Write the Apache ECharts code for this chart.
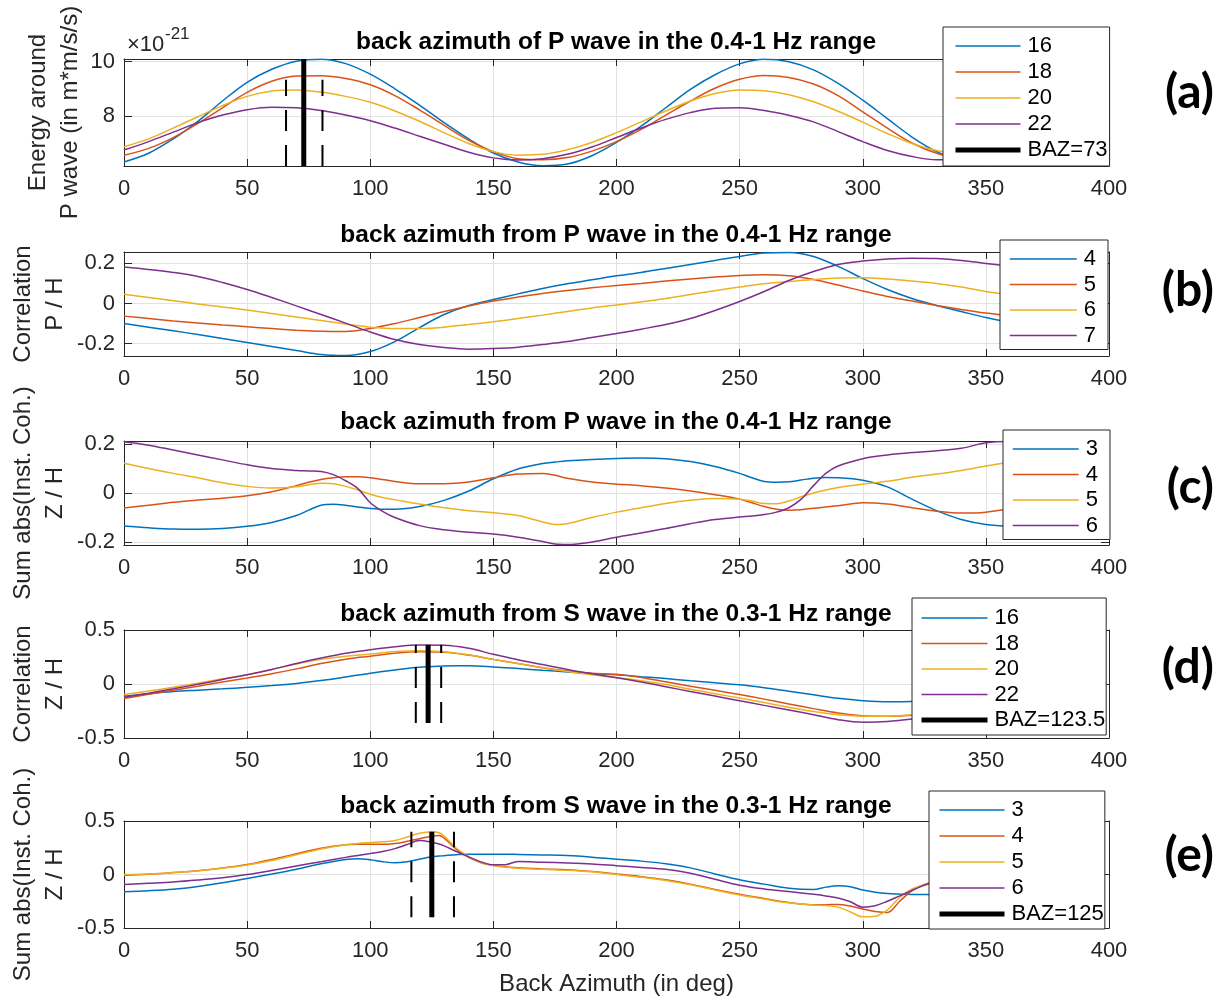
<!DOCTYPE html>
<html><head><meta charset="utf-8">
<script src="https://cdn.jsdelivr.net/npm/echarts@6/dist/echarts.min.js"></script>
<style>html,body{margin:0;padding:0;background:#fff}#c{width:1224px;height:1000px}</style>
</head><body><div id="c"></div>
<script>
// ---------------- DATA ----------------
const xMin = 0, xMax = 400, xStep = 50;
const xName = 'Back Azimuth (in deg)';

const az10 = [0,10,20,30,40,50,60,70,80,90,100,110,120,130,140,150,160,170,180,190,200,210,220,230,240,250,260,270,280,290,300,310,320,330,340,350,360];

// (a) energy around P wave (x 1e-21)
const titleA = 'back azimuth of P wave in the 0.4-1 Hz range';
const yNameA = 'Energy around\nP wave (in m*m/s/s)';
const legendA = ['16','18','20','22'];
const yRangeA = [6.15, 10.1];
const yTicksA = [8, 10];
const aBlue   = [6.30,6.62,7.15,7.80,8.55,9.24,9.72,10.02,10.09,9.93,9.54,9.00,8.40,7.75,7.15,6.63,6.30,6.16,6.22,6.53,7.02,7.62,8.30,8.98,9.52,9.92,10.09,10.00,9.70,9.20,8.58,7.90,7.22,6.68,6.32,6.16,6.22];
const aOrange = [6.55,6.80,7.20,7.72,8.30,8.87,9.28,9.47,9.48,9.38,9.15,8.75,8.22,7.65,7.10,6.68,6.42,6.38,6.46,6.70,7.05,7.50,8.03,8.55,9.02,9.35,9.49,9.42,9.18,8.75,8.15,7.55,7.00,6.62,6.42,6.40,6.50];
const aYellow = [6.86,7.15,7.55,7.97,8.38,8.72,8.92,8.96,8.88,8.72,8.50,8.18,7.80,7.38,6.98,6.68,6.55,6.58,6.75,7.02,7.38,7.78,8.18,8.55,8.83,8.96,8.93,8.78,8.52,8.17,7.77,7.35,6.98,6.72,6.60,6.62,6.80];
const aPurple = [6.74,7.05,7.40,7.75,8.03,8.23,8.32,8.30,8.20,8.03,7.82,7.55,7.25,6.95,6.66,6.45,6.37,6.42,6.58,6.85,7.20,7.55,7.87,8.12,8.28,8.30,8.20,8.02,7.78,7.42,7.05,6.72,6.50,6.38,6.38,6.48,6.70];
const bazNameA = 'BAZ=73';
const bazA = [73, 65.8, 80.6];          // best BAZ, lower, upper
const bazAThickY = [6.15, 10.1];
const bazADashY = [6.15, 9.33];

// (b) correlation P/H
const titleB = 'back azimuth from P wave in the 0.4-1 Hz range';
const yNameB = 'Correlation\nP / H';
const legendB = ['4','5','6','7'];
const yRangeB = [-0.262, 0.257];
const yTicksB = [-0.2, 0, 0.2];
const bBlue   = [-0.100,-0.118,-0.136,-0.155,-0.175,-0.195,-0.215,-0.235,-0.255,-0.260,-0.240,-0.190,-0.120,-0.055,-0.010,0.020,0.048,0.075,0.098,0.118,0.138,0.155,0.175,0.195,0.215,0.235,0.252,0.255,0.235,0.185,0.125,0.070,0.025,-0.010,-0.040,-0.070,-0.095];
const bOrange = [-0.063,-0.075,-0.087,-0.097,-0.107,-0.116,-0.125,-0.133,-0.139,-0.140,-0.125,-0.100,-0.070,-0.040,-0.012,0.012,0.032,0.050,0.065,0.078,0.090,0.100,0.112,0.122,0.132,0.140,0.143,0.138,0.120,0.092,0.062,0.035,0.012,-0.010,-0.030,-0.048,-0.063];
const bYellow = [0.046,0.030,0.014,-0.002,-0.018,-0.033,-0.050,-0.067,-0.085,-0.102,-0.118,-0.125,-0.125,-0.118,-0.105,-0.091,-0.075,-0.058,-0.040,-0.022,-0.008,0.008,0.025,0.045,0.064,0.082,0.098,0.110,0.120,0.127,0.128,0.122,0.112,0.100,0.082,0.060,0.045];
const bPurple = [0.182,0.170,0.155,0.135,0.105,0.070,0.030,-0.012,-0.055,-0.098,-0.142,-0.180,-0.205,-0.220,-0.228,-0.225,-0.218,-0.205,-0.190,-0.170,-0.150,-0.128,-0.105,-0.075,-0.035,0.010,0.060,0.115,0.160,0.195,0.212,0.222,0.226,0.224,0.215,0.200,0.185];

// (c) sum abs instantaneous coherence Z/H (P wave)
const titleC = 'back azimuth from P wave in the 0.4-1 Hz range';
const yNameC = 'Sum abs(Inst. Coh.)\nZ / H';
const legendC = ['3','4','5','6'];
const yRangeC = [-0.212, 0.212];
const yTicksC = [-0.2, 0, 0.2];
const azC = [0,10,20,30,40,50,60,70,75,80,85,90,95,100,105,110,120,130,140,150,160,170,175,180,190,200,210,220,230,240,250,255,260,265,270,275,280,285,290,300,310,320,330,340,350,360];
const cBlue   = [-0.135,-0.142,-0.147,-0.148,-0.145,-0.136,-0.120,-0.092,-0.070,-0.050,-0.046,-0.050,-0.057,-0.063,-0.066,-0.066,-0.055,-0.030,0.008,0.058,0.098,0.120,0.126,0.131,0.137,0.141,0.143,0.140,0.128,0.108,0.080,0.062,0.047,0.044,0.046,0.053,0.060,0.063,0.062,0.052,0.025,-0.025,-0.072,-0.108,-0.128,-0.135];
const cOrange = [-0.061,-0.050,-0.038,-0.029,-0.021,-0.011,0.005,0.030,0.044,0.055,0.062,0.066,0.066,0.062,0.055,0.047,0.038,0.038,0.045,0.062,0.077,0.080,0.072,0.060,0.045,0.036,0.030,0.020,0.008,-0.007,-0.025,-0.040,-0.055,-0.066,-0.070,-0.068,-0.062,-0.057,-0.052,-0.040,-0.045,-0.060,-0.074,-0.082,-0.078,-0.062];
const cYellow = [0.121,0.100,0.080,0.062,0.042,0.027,0.020,0.025,0.034,0.040,0.038,0.027,0.012,-0.005,-0.018,-0.027,-0.045,-0.060,-0.072,-0.081,-0.092,-0.118,-0.128,-0.125,-0.100,-0.078,-0.060,-0.043,-0.030,-0.022,-0.025,-0.033,-0.043,-0.044,-0.033,-0.015,0.000,0.012,0.022,0.036,0.048,0.064,0.077,0.092,0.110,0.125];
const cPurple = [0.209,0.195,0.175,0.155,0.135,0.115,0.100,0.092,0.090,0.088,0.075,0.050,0.018,-0.040,-0.075,-0.100,-0.133,-0.150,-0.160,-0.167,-0.180,-0.198,-0.208,-0.210,-0.200,-0.180,-0.163,-0.145,-0.125,-0.108,-0.098,-0.094,-0.088,-0.078,-0.060,-0.025,0.030,0.080,0.110,0.140,0.155,0.165,0.172,0.182,0.205,0.210];

// (d) correlation Z/H (S wave)
const titleD = 'back azimuth from S wave in the 0.3-1 Hz range';
const yNameD = 'Correlation\nZ / H';
const legendD = ['16','18','20','22'];
const yRangeD = [-0.5, 0.5];
const yTicksD = [-0.5, 0, 0.5];
const dBlue   = [-0.114,-0.090,-0.070,-0.057,-0.045,-0.031,-0.015,0.005,0.032,0.065,0.100,0.130,0.155,0.167,0.168,0.158,0.143,0.127,0.112,0.098,0.086,0.068,0.050,0.030,0.012,-0.008,-0.035,-0.067,-0.100,-0.132,-0.154,-0.165,-0.163,-0.150,-0.140,-0.128,-0.114];
const dOrange = [-0.135,-0.095,-0.057,-0.020,0.018,0.055,0.095,0.140,0.190,0.230,0.258,0.285,0.298,0.295,0.268,0.228,0.190,0.150,0.120,0.100,0.090,0.060,0.020,-0.020,-0.058,-0.098,-0.140,-0.185,-0.228,-0.268,-0.295,-0.298,-0.290,-0.265,-0.230,-0.185,-0.135];
const dYellow = [-0.098,-0.065,-0.030,0.008,0.048,0.086,0.135,0.185,0.228,0.258,0.277,0.300,0.308,0.298,0.270,0.228,0.190,0.150,0.115,0.085,0.060,0.030,-0.005,-0.048,-0.090,-0.130,-0.172,-0.215,-0.255,-0.285,-0.298,-0.298,-0.285,-0.255,-0.210,-0.155,-0.098];
const dPurple = [-0.123,-0.085,-0.045,-0.003,0.042,0.086,0.135,0.190,0.240,0.285,0.317,0.345,0.360,0.358,0.330,0.275,0.225,0.180,0.135,0.095,0.058,0.018,-0.025,-0.070,-0.112,-0.155,-0.198,-0.240,-0.285,-0.330,-0.354,-0.348,-0.325,-0.290,-0.240,-0.180,-0.123];
const bazNameD = 'BAZ=123.5';
const bazD = [123.5, 118.5, 128.8];
const bazDThickY = [-0.36, 0.363];
const bazDDashY = [-0.36, 0.363];

// (e) sum abs instantaneous coherence Z/H (S wave)
const titleE = 'back azimuth from S wave in the 0.3-1 Hz range';
const yNameE = 'Sum abs(Inst. Coh.)\nZ / H';
const legendE = ['3','4','5','6'];
const yRangeE = [-0.5, 0.5];
const yTicksE = [-0.5, 0, 0.5];
const azE = [0,10,20,30,40,50,60,70,80,90,95,100,105,110,115,120,125,128,130,135,140,145,150,155,160,170,180,190,200,210,220,230,240,250,260,270,280,285,290,295,300,305,310,315,320,325,330,340,350,360];
const eBlue   = [-0.161,-0.152,-0.138,-0.112,-0.078,-0.037,0.005,0.050,0.100,0.140, 0.148,0.138,0.120,0.110,0.120,0.142,0.165,0.172,0.176,0.185, 0.190,0.190,0.190,0.190,0.188,0.183,0.177,0.162,0.142,0.125, 0.100,0.062,0.005,-0.050,-0.090,-0.128,-0.140,-0.118,-0.106,-0.115, -0.145,-0.165,-0.178,-0.183,-0.186,-0.188,-0.188,-0.188,-0.180,-0.161];
const eOrange = [-0.006,0.003,0.018,0.035,0.060,0.093,0.140,0.195,0.245,0.278, 0.283,0.282,0.282,0.290,0.310,0.335,0.358,0.365,0.340,0.235, 0.160,0.110,0.085,0.072,0.062,0.052,0.045,0.028,0.005,-0.020, -0.050,-0.090,-0.140,-0.185,-0.225,-0.262,-0.282,-0.282,-0.280,-0.295, -0.322,-0.345,-0.355,-0.250,-0.150,-0.092,-0.068,-0.040,-0.020,-0.006];
const eYellow = [0.000,0.005,0.018,0.035,0.058,0.088,0.130,0.185,0.238,0.278, 0.290,0.298,0.305,0.318,0.350,0.385,0.400,0.390,0.360,0.245, 0.165,0.112,0.085,0.068,0.058,0.048,0.040,0.025,0.000,-0.025, -0.055,-0.095,-0.145,-0.192,-0.230,-0.265,-0.285,-0.290,-0.305,-0.350, -0.395,-0.390,-0.330,-0.215,-0.135,-0.095,-0.070,-0.040,-0.020,0.000];
const ePurple = [-0.093,-0.082,-0.070,-0.052,-0.030,0.000,0.038,0.080,0.120,0.160, 0.178,0.196,0.215,0.242,0.280,0.318,0.302,0.285,0.268,0.215, 0.165,0.118,0.090,0.092,0.122,0.115,0.108,0.098,0.082,0.066, 0.048,0.012,-0.045,-0.100,-0.135,-0.160,-0.185,-0.200,-0.220,-0.255, -0.305,-0.292,-0.250,-0.200,-0.150,-0.100,-0.070,-0.060,-0.075,-0.093];
const bazNameE = 'BAZ=125';
const bazE = [125, 116.7, 134];
const bazEThickY = [-0.40, 0.40];
const bazEDashY = [-0.40, 0.40];

const scaleNote = ['\u00d710', '-21'];
const tags = ['(a)','(b)','(c)','(d)','(e)'];

// ---------------- STYLE / LAYOUT ----------------
const FONT = '"Liberation Sans", Arial, Helvetica, sans-serif';
const AX = '#262626';
const GRIDC = '#e2e2e2';
const COLORS = ['#0072BD','#D95319','#EDB120','#7E2F8E'];
const gridBoxes = [[124,59,985,107],[124,252,985,104],[124,441,985,104],[124,630,985,108],[124,821,985,107]];
const titleYs = [42, 235, 422, 614, 806];
const tagYs = [93, 291, 488, 668, 856];

const panels = [
  {prefix:'a', xs:az10, ys:[aBlue,aOrange,aYellow,aPurple], names:legendA, yRange:yRangeA, yTicks:yTicksA, yName:yNameA, nameGap:38, title:titleA,
   baz:bazA, bazThick:bazAThickY, bazDash:bazADashY, bazName:bazNameA,
   leg:{left:943, top:27, itemWidth:65, itemGap:4, padding:[8,2,5,10]}},
  {prefix:'b', xs:az10, ys:[bBlue,bOrange,bYellow,bPurple], names:legendB, yRange:yRangeB, yTicks:yTicksB, yName:yNameB, nameGap:53, title:titleB,
   leg:{left:1000, top:240, itemWidth:67, itemGap:3.5, padding:[8,12,3,9]}},
  {prefix:'c', xs:azC, ys:[cBlue,cOrange,cYellow,cPurple], names:legendC, yRange:yRangeC, yTicks:yTicksC, yName:yNameC, nameGap:53, title:titleC,
   leg:{left:1003, top:430, itemWidth:66, itemGap:3.5, padding:[8,12,3,9]}},
  {prefix:'d', xs:az10, ys:[dBlue,dOrange,dYellow,dPurple], names:legendD, yRange:yRangeD, yTicks:yTicksD, yName:yNameD, nameGap:53, title:titleD,
   baz:bazD, bazThick:bazDThickY, bazDash:bazDDashY, bazName:bazNameD,
   leg:{left:912, top:598, itemWidth:66, itemGap:3.5, padding:[9,1,4,7]}},
  {prefix:'e', xs:azE, ys:[eBlue,eOrange,eYellow,ePurple], names:legendE, yRange:yRangeE, yTicks:yTicksE, yName:yNameE, nameGap:53, title:titleE,
   baz:bazE, bazThick:bazEThickY, bazDash:bazEDashY, bazName:bazNameE,
   leg:{left:929, top:791, itemWidth:65, itemGap:4, padding:[8,1,4,8]}}
];

const option = {animation:false, backgroundColor:'#fff', grid:[], xAxis:[], yAxis:[], series:[], legend:[], graphic:[]};

panels.forEach((p, g) => {
  const [l,t,w,h] = gridBoxes[g];
  option.grid.push({left:l, top:t, width:w, height:h, containLabel:false, outerBoundsMode:'none'});
  const axLine = {show:true, onZero:false, lineStyle:{color:AX, width:1}};
  const xBase = {type:'value', gridIndex:g, min:xMin, max:xMax, interval:xStep, axisLine:axLine,
    axisTick:{show:true, inside:true, length:7, lineStyle:{color:AX, width:1}}};
  option.xAxis.push(Object.assign({}, xBase, {position:'bottom',
    axisLabel:{show:true, margin:12, fontSize:22, color:AX, fontFamily:FONT},
    splitLine:{show:true, lineStyle:{color:GRIDC, width:1}},
    name: g === 4 ? xName : '', nameLocation:'middle', nameGap:44, nameMoveOverlap:false,
    nameTextStyle:{fontSize:24, color:AX, fontFamily:FONT}}));
  option.xAxis.push(Object.assign({}, xBase, {position:'top', axisLabel:{show:false}, splitLine:{show:false}}));
  const yBase = {type:'value', gridIndex:g, min:p.yRange[0], max:p.yRange[1], axisLine:axLine,
    axisTick:{show:true, inside:true, length:8, customValues:p.yTicks, lineStyle:{color:AX, width:1}}};
  option.yAxis.push(Object.assign({}, yBase, {position:'left',
    axisLabel:{show:true, customValues:p.yTicks, margin:9, fontSize:22, color:AX, fontFamily:FONT},
    splitLine:{show:true, lineStyle:{color:GRIDC, width:1}},
    name:p.yName, nameLocation:'middle', nameRotate:90, nameGap:p.nameGap, nameMoveOverlap:false,
    nameTextStyle:{fontSize:24, lineHeight:32, color:AX, fontFamily:FONT}}));
  option.yAxis.push(Object.assign({}, yBase, {position:'right', axisLabel:{show:false}, splitLine:{show:false}}));

  const legData = [];
  p.ys.forEach((ys, k) => {
    const nm = p.prefix + p.names[k];
    legData.push({name:nm});
    option.series.push({type:'line', name:nm, xAxisIndex:2*g, yAxisIndex:2*g,
      data:p.xs.map((x,i) => [x, ys[i]]), symbol:'none', smooth:0.35, silent:true,
      lineStyle:{width:1.5, color:COLORS[k]}, itemStyle:{color:COLORS[k]}, z:2});
  });
  if (p.baz) {
    const nm = p.prefix + p.bazName;
    legData.push({name:nm, lineStyle:{width:5}});
    option.series.push({type:'line', name:nm, xAxisIndex:2*g, yAxisIndex:2*g,
      data:p.bazThick.map(y => [p.baz[0], y]), symbol:'none', silent:true,
      lineStyle:{width:5, color:'#000'}, itemStyle:{color:'#000'}, z:4});
    [p.baz[1], p.baz[2]].forEach(bx => {
      option.series.push({type:'line', name:'_dash'+g, xAxisIndex:2*g, yAxisIndex:2*g,
        data:p.bazDash.map(y => [bx, y]), symbol:'none', silent:true,
        lineStyle:{width:2, color:'#000', type:[21,14]}, itemStyle:{color:'#000'}, z:4});
    });
  }
  option.legend.push(Object.assign({data:legData, formatter:n => n.slice(1), orient:'vertical',
    selectedMode:false, backgroundColor:'#fff', borderColor:AX, borderWidth:1, itemHeight:14,
    textStyle:{fontSize:22, lineHeight:22, color:'#000', fontFamily:FONT, padding:[0,0,0,2]},
    lineStyle:{width:'inherit'}, itemStyle:{opacity:0}, z:10}, p.leg));

  option.graphic.push({type:'text', x:616, y:titleYs[g], z:20,
    style:{text:p.title, font:'bold 24.5px ' + FONT, fill:'#000', textAlign:'center', textVerticalAlign:'middle', align:'center', verticalAlign:'middle'}});
  option.graphic.push({type:'text', x:1214, y:tagYs[g], z:20,
    style:{text:tags[g], font:'bold 48px Lato, "Open Sans", sans-serif', fill:'#000', textAlign:'right', textVerticalAlign:'middle', align:'right', verticalAlign:'middle'}});
});

option.graphic.push({type:'text', x:127, y:45, z:20,
  style:{text:scaleNote[0], font:'22px ' + FONT, fill:AX, textAlign:'left', textVerticalAlign:'middle', align:'left', verticalAlign:'middle'}});
option.graphic.push({type:'text', x:165, y:34, z:20,
  style:{text:scaleNote[1], font:'17px ' + FONT, fill:AX, textAlign:'left', textVerticalAlign:'middle', align:'left', verticalAlign:'middle'}});

const chart = echarts.init(document.getElementById('c'), null, {renderer:'canvas'});
chart.setOption(option);
</script>
</body></html>
